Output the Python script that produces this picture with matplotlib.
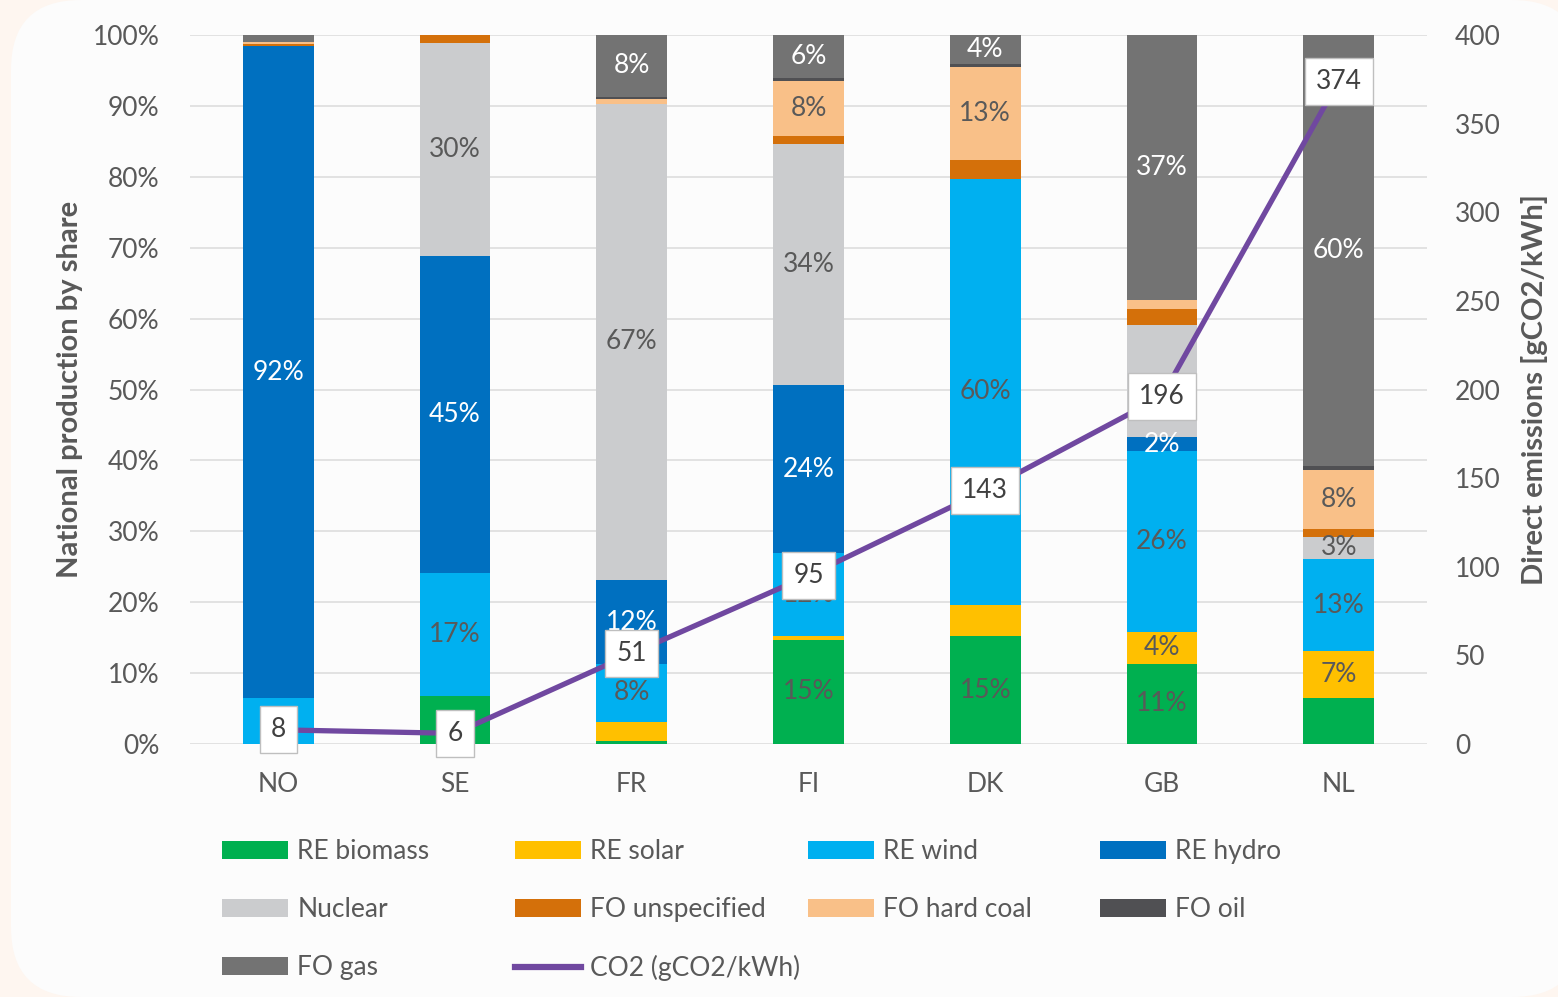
import numpy as np
import matplotlib
matplotlib.use("Agg")
import matplotlib.pyplot as plt
from matplotlib.patches import Patch, FancyBboxPatch
from matplotlib.lines import Line2D

plt.rcParams['font.family'] = ['Lato', 'DejaVu Sans']

countries = ['NO', 'SE', 'FR', 'FI', 'DK', 'GB', 'NL']

# shares in percent of national production
re_biomass = [0, 6.8, 0.4, 14.7, 15.2, 11.3, 6.5]
re_solar = [0, 0, 2.7, 0.5, 4.4, 4.5, 6.6]
re_wind = [6.5, 17.3, 8.2, 11.7, 60.1, 25.5, 13.0]
re_hydro = [91.9, 44.7, 11.8, 23.7, 0, 2.0, 0]
nuclear = [0, 30.1, 67.2, 34.0, 0, 15.8, 3.1]
fo_unspecified = [0.4, 1.1, 0, 1.2, 2.7, 2.3, 1.1]
fo_hard_coal = [0.2, 0, 0.7, 7.7, 13.1, 1.2, 8.3]
fo_oil = [0, 0, 0.3, 0.4, 0.4, 0, 0.6]
fo_gas = [1.0, 0, 8.8, 6.1, 4.1, 37.4, 60.8]

# data labels as printed on the bars
lbl_biomass = ['', '', '', '15%', '15%', '11%', '']
lbl_solar = ['', '', '', '', '', '4%', '7%']
lbl_wind = ['', '17%', '8%', '12%', '60%', '26%', '13%']
lbl_hydro = ['92%', '45%', '12%', '24%', '', '2%', '']
lbl_nuclear = ['', '30%', '67%', '34%', '', '', '3%']
lbl_unspecified = [''] * 7
lbl_hard_coal = ['', '', '', '8%', '13%', '', '8%']
lbl_oil = [''] * 7
lbl_gas = ['', '', '8%', '6%', '4%', '37%', '60%']

co2 = [8, 6, 51, 95, 143, 196, 374]

series = [
    ('RE biomass', re_biomass, lbl_biomass, '#00B050', '#595959'),
    ('RE solar', re_solar, lbl_solar, '#FFC000', '#595959'),
    ('RE wind', re_wind, lbl_wind, '#00B0F0', '#595959'),
    ('RE hydro', re_hydro, lbl_hydro, '#0070C0', 'white'),
    ('Nuclear', nuclear, lbl_nuclear, '#CBCCCE', '#595959'),
    ('FO unspecified', fo_unspecified, lbl_unspecified, '#D4700A', '#595959'),
    ('FO hard coal', fo_hard_coal, lbl_hard_coal, '#F9C088', '#595959'),
    ('FO oil', fo_oil, lbl_oil, '#505053', 'white'),
    ('FO gas', fo_gas, lbl_gas, '#737373', 'white'),
]

TXT = '#595959'
FS = 19
W, H = 1558, 997

fig = plt.figure(figsize=(W / 100, H / 100), dpi=100)
fig.patch.set_facecolor('#FEF6F0')
card = FancyBboxPatch((11, 0), 1571, 997, boxstyle='round,pad=0,rounding_size=70',
                      transform=None, fc='#FCFCFC', ec='none', zorder=-10)
fig.patches.append(card)

ax = fig.add_axes([190 / W, 1 - 744 / H, (1427 - 190) / W, (744 - 35) / H])
ax.set_facecolor('none')
x = np.arange(len(countries))
bottom = np.zeros(len(countries))
handles = {}
for name, vals, lbls, col, tcol in series:
    vals = np.array(vals, dtype=float)
    ax.bar(x, vals, 0.4, bottom=bottom, color=col, zorder=2)
    for i, t in enumerate(lbls):
        if t:
            ax.text(x[i], bottom[i] + vals[i] / 2, t, ha='center', va='center',
                    color=tcol, fontsize=FS, zorder=3)
    bottom += vals
    handles[name] = Patch(fc=col, ec='none')

ax.set_xlim(-0.5, len(countries) - 0.5)
ax.set_ylim(0, 100)
ax.set_yticks(np.arange(0, 101, 10))
ax.set_yticklabels(['{}%'.format(v) for v in range(0, 101, 10)])
ax.set_xticks(x)
ax.set_xticklabels(countries)
ax.tick_params(axis='y', length=0, pad=22, labelsize=FS, labelcolor=TXT)
ax.tick_params(axis='x', length=0, pad=20, labelsize=FS, labelcolor=TXT)
ax.yaxis.grid(True, color='#DDDDDD', lw=1.2, zorder=0)
ax.set_axisbelow(True)
for s in ax.spines.values():
    s.set_visible(False)
ax.set_ylabel('National production by share', fontsize=21, color=TXT,
              fontweight='bold', labelpad=7)

ax2 = ax.twinx()
ax2.set_ylim(0, 400)
ax2.set_yticks(np.arange(0, 401, 50))
ax2.tick_params(axis='y', length=0, pad=20, labelsize=FS, labelcolor=TXT)
for s in ax2.spines.values():
    s.set_visible(False)
line_col = '#7048A0'
ax2.plot(x, co2, color=line_col, lw=3.8, zorder=4)
for i, v in enumerate(co2):
    ax2.text(x[i], v, str(v), ha='center', va='center', fontsize=FS, color='#404040', zorder=5,
             bbox=dict(boxstyle='square,pad=0.42', fc='white', ec='#BFBFBF', lw=1))
ax2.set_ylabel('Direct emissions [gCO2/kWh]', fontsize=21, color=TXT,
               fontweight='bold', labelpad=15)

# legend laid out as four fixed-width columns like the original
handles['CO2 (gCO2/kWh)'] = Line2D([], [], color=line_col, lw=4.5)
columns = [
    ['RE biomass', 'Nuclear', 'FO gas'],
    ['RE solar', 'FO unspecified', 'CO2 (gCO2/kWh)'],
    ['RE wind', 'FO hard coal'],
    ['RE hydro', 'FO oil'],
]
col_x = [222, 515, 808, 1100]
for cx, names in zip(col_x, columns):
    fig.legend([handles[n] for n in names], names, loc='upper left',
               bbox_to_anchor=(cx / W, 1 - 839 / H), frameon=False, fontsize=19,
               labelcolor=TXT, handlelength=2.5, handleheight=0.65, handletextpad=0.35,
               labelspacing=1.25, borderpad=0, borderaxespad=0)

fig.savefig('out.png', dpi=100, facecolor=fig.get_facecolor())
